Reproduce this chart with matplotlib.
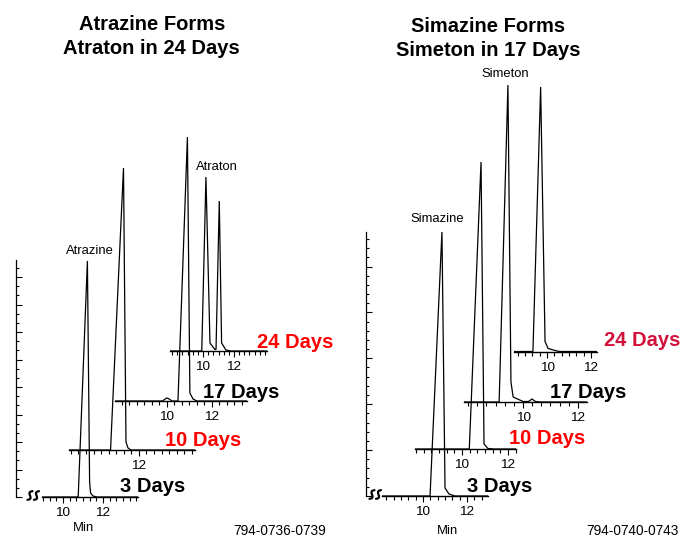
import matplotlib
matplotlib.use("Agg")
import matplotlib.pyplot as plt
from matplotlib.ticker import FixedLocator
from matplotlib import font_manager
import numpy as np

W, H = 682, 548
DPI = 100

# ---- chromatogram vertices (minutes, response) ----
# left panel: atrazine -> atraton
atz_3d_t = [8.95, 10.76, 11.22, 11.33, 11.38, 11.50, 11.70, 13.75]
atz_3d_y = [0, 0, 236, 15, 4, 1, 0, 0]
atz_10d_t = [8.92, 10.75, 11.32, 11.43, 11.52, 11.65, 14.47]
atz_10d_y = [0, 0, 282, 8, 2, 0, 0]
atz_17d_t = [7.69, 9.80, 9.92, 10.00, 10.10, 10.22, 10.49, 10.91, 11.02, 11.16, 11.33, 13.56]
atz_17d_y = [0, 0, 2, 3, 2, 0, 0, 264, 8, 2, 0, 0]
atz_24d_t = [7.87, 9.92, 10.19, 10.45, 10.77, 10.84, 11.05, 11.20, 11.48, 11.80, 14.13]
atz_24d_y = [0, 0, 174, 8, 1.5, 1.5, 150, 8, 1, 0, 0]

# right panel: simazine -> simeton
sim_3d_t = [8.14, 10.32, 10.86, 11.00, 11.18, 11.45, 12.95]
sim_3d_y = [0, 0, 264, 8, 2, 0, 0]
sim_10d_t = [7.96, 10.32, 10.83, 10.96, 11.13, 11.40, 12.35]
sim_10d_y = [0, 0, 287, 5, 0.5, 0, 0]
sim_17d_t = [7.85, 9.13, 9.45, 9.56, 9.64, 10.00, 10.20, 10.33, 10.45, 10.62, 12.33]
sim_17d_y = [0, 0, 317, 20, 5, 0.5, 0.5, 3, 0.5, 0, 0]
sim_24d_t = [8.50, 9.36, 9.71, 9.91, 10.05, 10.45, 10.60, 12.27]
sim_24d_y = [0, 0, 264.5, 10, 3, 0.5, 0, 0]

day_labels = ["3 Days", "10 Days", "17 Days", "24 Days"]

plt.rcParams["font.family"] = ["Liberation Sans", "DejaVu Sans"]

# a condensed face if there is one, else plain sans a bit smaller
_names = {f.name for f in font_manager.fontManager.ttflist}
if "Liberation Sans Narrow" in _names:
    NARROW, NSIZE = "Liberation Sans Narrow", 10.5
else:
    NARROW, NSIZE = "Liberation Sans", 9.4

fig = plt.figure(figsize=(W / DPI, H / DPI), dpi=DPI)


def px_axes(left, right, base, height=340):
    # axes placed in pixel units, 1 response unit = 1 px
    ax = fig.add_axes([left / W, (H - base) / H, (right - left) / W, height / H])
    ax.set_ylim(0, height)
    ax.patch.set_visible(False)
    return ax


def trace(t, y, left, right, base, labeled=(10, 12)):
    ax = px_axes(left, right, base)
    ax.plot(t, y, color="black", lw=0.9, solid_joinstyle="miter")
    ax.set_xlim(t[0], t[-1])
    for s in ["top", "right", "left"]:
        ax.spines[s].set_visible(False)
    ax.spines["bottom"].set_linewidth(1.0)
    minor = [10 + k / 3 for k in range(-9, 15) if t[0] <= 10 + k / 3 <= t[-1]]
    ax.xaxis.set_major_locator(FixedLocator(list(labeled)))
    ax.xaxis.set_minor_locator(FixedLocator(minor))
    ax.set_xticklabels([str(v) for v in labeled], family=NARROW, fontsize=NSIZE + 0.3)
    ax.tick_params(which="major", direction="out", length=4.5, width=0.8, pad=3)
    ax.tick_params(which="minor", direction="out", length=3, width=0.8)
    ax.set_yticks([])
    return ax


def y_axis(x, base, top, step, nminor):
    ax = px_axes(x, x + 10, base)
    for s in ["top", "right", "bottom"]:
        ax.spines[s].set_visible(False)
    ax.spines["left"].set_bounds(0, top)
    ax.spines["left"].set_linewidth(0.9)
    ax.set_xticks([])
    ax.yaxis.set_major_locator(FixedLocator(np.arange(0, top + 0.1, step)))
    ax.yaxis.set_minor_locator(FixedLocator(np.arange(0, top + 0.1, step / nminor)))
    ax.set_yticklabels([])
    ax.tick_params(which="major", direction="in", length=4, width=0.8)
    ax.tick_params(which="minor", direction="in", length=2.5, width=0.8)


# left panel
y_axis(16, 497, 237, 27.5, 3)
trace(atz_3d_t, atz_3d_y, 42, 138, 497)
trace(atz_10d_t, atz_10d_y, 69, 195, 450, labeled=(12,))
trace(atz_17d_t, atz_17d_y, 115, 247, 401)
trace(atz_24d_t, atz_24d_y, 170, 267, 351)

# right panel
y_axis(366, 496, 264, 45.9, 5)
trace(sim_3d_t, sim_3d_y, 382, 488, 496)
trace(sim_10d_t, sim_10d_y, 415, 516, 449)
trace(sim_17d_t, sim_17d_y, 464, 587, 402)
trace(sim_24d_t, sim_24d_y, 514, 597, 351.5)

# overlay for text, pixel coordinates
ov = fig.add_axes([0, 0, 1, 1])
ov.set_xlim(0, W)
ov.set_ylim(H, 0)
ov.axis("off")
ov.patch.set_visible(False)

# axis break marks
u = np.linspace(-1, 1, 30)
th = np.radians(60)
bx = 5.0 * u * np.cos(th) - 1.8 * np.sin(np.pi * u) * np.sin(th)
by = 5.0 * u * np.sin(th) + 1.8 * np.sin(np.pi * u) * np.cos(th)
for cx, cy in [(30, 495.5), (36.5, 495.5), (372, 494.5), (378.5, 494.5)]:
    ov.plot(cx + bx, cy - by, color="black", lw=1.6, solid_capstyle="round")

title_kw = dict(ha="center", va="center", fontsize=14.5, fontweight="bold")
ov.text(152, 24, "Atrazine Forms", **title_kw)
ov.text(151, 48, "Atraton in 24 Days", **title_kw)
ov.text(488, 27, "Simazine Forms", **title_kw)
ov.text(488, 50, "Simeton in 17 Days", **title_kw)

red = "#FF0000"
crimson = "#D2103A"
day_kw = dict(ha="left", va="center", fontsize=14.5, fontweight="bold")
left_pos = [(120, 487), (165, 441), (203, 392), (257, 342)]
right_pos = [(467, 487), (509, 438), (550, 393), (604, 341)]
left_col = ["black", red, "black", red]
right_col = ["black", red, "black", crimson]
for lab, (x, y), c in zip(day_labels, left_pos, left_col):
    ov.text(x, y, lab, color=c, **day_kw)
for lab, (x, y), c in zip(day_labels, right_pos, right_col):
    ov.text(x, y, lab, color=c, **day_kw)

peak_kw = dict(ha="center", va="center", fontsize=NSIZE, family=NARROW)
ov.text(90, 251, "Atrazine", **peak_kw)
ov.text(217, 167, "Atraton", **peak_kw)
ov.text(437, 219, "Simazine", **peak_kw)
ov.text(505, 74, "Simeton", **peak_kw)
ov.text(83, 528, "Min", **peak_kw)
ov.text(447, 531, "Min", **peak_kw)

ov.text(280, 531, "794-0736-0739", ha="center", va="center", fontsize=9.8)
ov.text(632, 531, "794-0740-0743", ha="center", va="center", fontsize=9.8)

fig.savefig("out.png", dpi=DPI)
